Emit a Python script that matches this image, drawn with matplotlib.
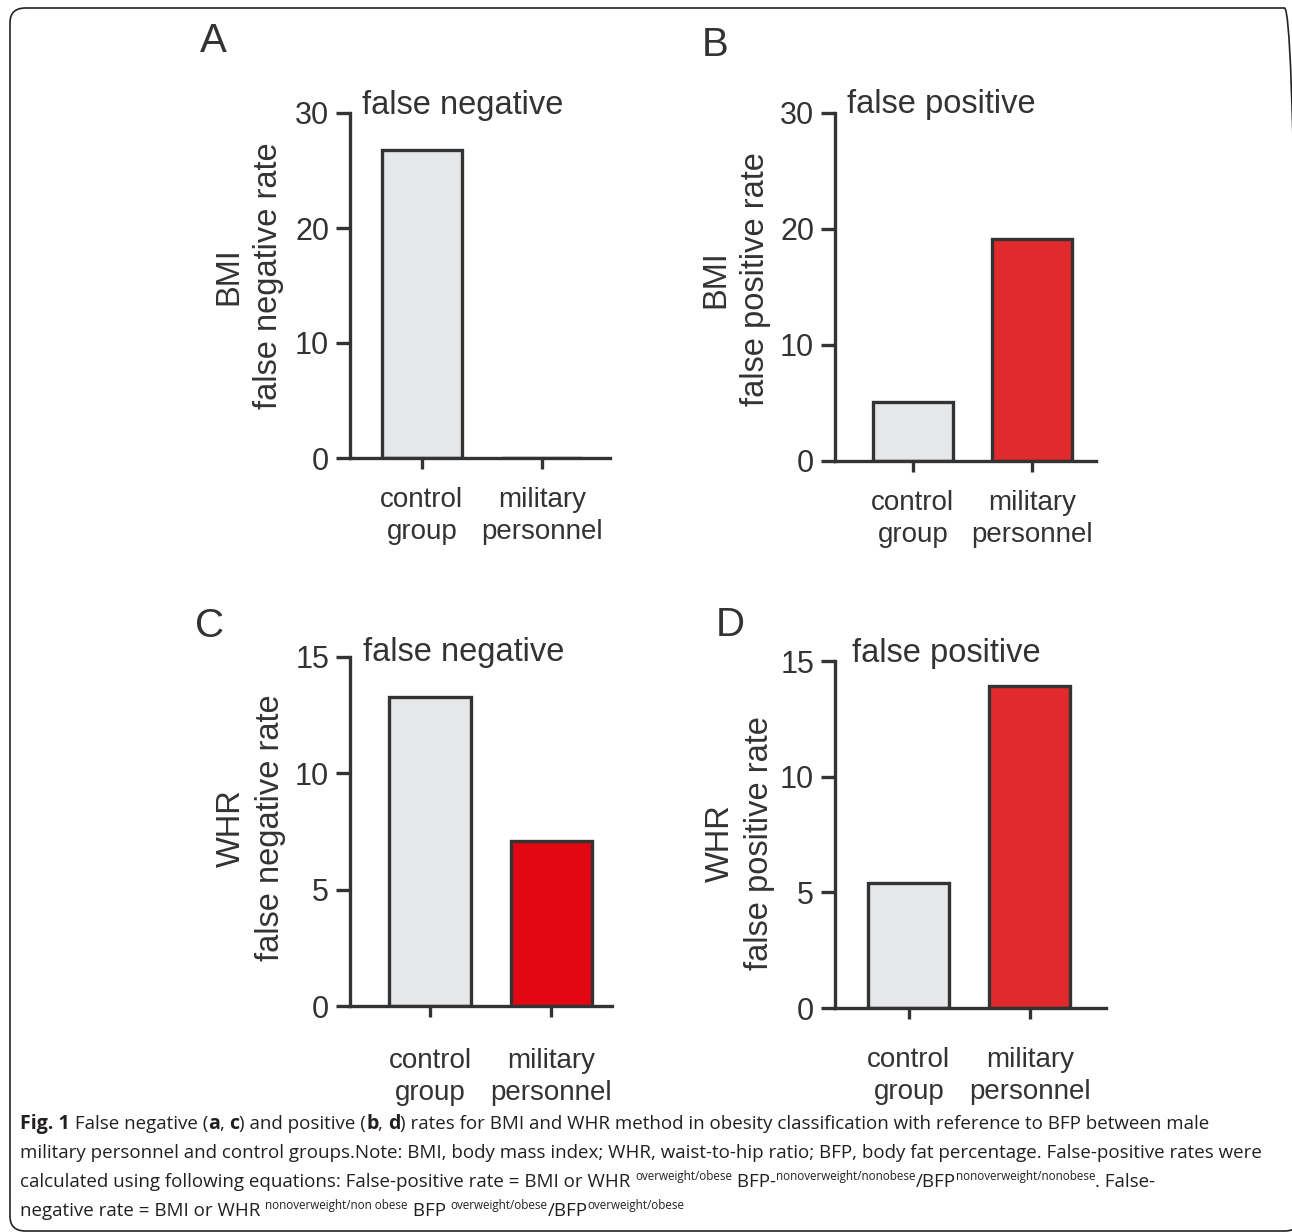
import matplotlib
matplotlib.use("Agg")
import matplotlib.pyplot as plt
from matplotlib.patches import FancyBboxPatch

W, H = 1292, 1232
DARK = "#333333"
GRAY = "#e6e7e9"

categories = ["control\ngroup", "military\npersonnel"]
bmi_false_negative = [26.8, 0.0]
bmi_false_positive = [5.1, 19.1]
whr_false_negative = [13.3, 7.1]
whr_false_positive = [5.4, 13.9]

panel_letters = ["A", "B", "C", "D"]
panel_titles = ["false negative", "false positive", "false negative", "false positive"]
panel_ylabels = ["BMI\nfalse negative rate", "BMI\nfalse positive rate",
                 "WHR\nfalse negative rate", "WHR\nfalse positive rate"]
panel_yticks = [[0, 10, 20, 30], [0, 10, 20, 30], [0, 5, 10, 15], [0, 5, 10, 15]]
panel_values = [bmi_false_negative, bmi_false_positive, whr_false_negative, whr_false_positive]
panel_red = ["#e02a2b", "#e02a2b", "#e20712", "#e02a2b"]

plt.rcParams["font.family"] = ["Liberation Sans", "DejaVu Sans"]


def fx(x):
    return x / W


def fy(y):
    return 1 - y / H


fig = plt.figure(figsize=(W / 100, H / 100), dpi=100)

# rounded frame around the whole figure
frame = FancyBboxPatch((fx(10), fy(1231)), fx(1300) - fx(10), fy(8) - fy(1231),
                       boxstyle="round,pad=0,rounding_size=0.012",
                       transform=fig.transFigure, fill=False, ec="#222222", lw=1.2)
fig.patches.append(frame)

# pixel layout: axes box, xlim, label positions
boxes = [(350, 610, 113, 458), (835, 1096, 113, 461), (350, 612, 657, 1006), (835, 1106, 661, 1008)]
xlims = [(-0.6, 1.57), (-0.655, 1.54), (-0.66, 1.5), (-0.61, 1.63)]
letter_pos = [(213, 41), (715, 45), (210, 626), (730, 625)]
title_pos = [(362, 114), (847, 113), (363, 661), (852, 662)]
ylabel_pos = [(249, 276), (736, 279), (251, 828), (740, 843)]
xpads = [13, 13, 22, 20]

for i in range(4):
    l, r, t, b = boxes[i]
    ax = fig.add_axes([fx(l), fy(b), (r - l) / W, (b - t) / H])
    vals = panel_values[i]
    ax.bar(range(len(categories)), vals, width=0.67,
           color=[GRAY, panel_red[i]], edgecolor=DARK, linewidth=2.4, zorder=3)
    ax.set_xlim(*xlims[i])
    yt = panel_yticks[i]
    ax.set_ylim(yt[0], yt[-1])
    ax.set_yticks(yt)
    ax.set_xticks(range(len(categories)))
    ax.set_xticklabels(categories, fontsize=20, linespacing=1.3, color=DARK)
    for s in ["top", "right"]:
        ax.spines[s].set_visible(False)
    for s in ["left", "bottom"]:
        ax.spines[s].set_linewidth(2.4)
        ax.spines[s].set_color(DARK)
        ax.spines[s].set_zorder(4)
    ax.tick_params(axis="y", direction="out", length=10, width=2.4, color=DARK,
                   labelsize=22, labelcolor=DARK, pad=5)
    ax.tick_params(axis="x", direction="out", length=8, width=2.4, color=DARK,
                   pad=xpads[i])
    ax.patch.set_alpha(0)

    fig.text(fx(letter_pos[i][0]), fy(letter_pos[i][1]), panel_letters[i],
             fontsize=29, color=DARK, ha="center", va="center")
    fig.text(fx(title_pos[i][0]), fy(title_pos[i][1]), panel_titles[i],
             fontsize=23.5, color=DARK, ha="left", va="baseline")
    fig.text(fx(ylabel_pos[i][0]), fy(ylabel_pos[i][1]), panel_ylabels[i],
             fontsize=23.5, color=DARK, ha="center", va="center", rotation=90,
             multialignment="center", linespacing=1.35)

# caption, drawn as runs so bold letters and superscripts sit inline
renderer = fig.canvas.get_renderer()
cap_font = ["Open Sans", "DejaVu Sans"]
cap_size = 13.5
cap_color = "#231f20"


def text_width(s, **kw):
    t = fig.text(0, 0, "x" + s + "x", family=cap_font, **kw)
    t0 = fig.text(0, 0, "xx", family=cap_font, **kw)
    w = t.get_window_extent(renderer).width - t0.get_window_extent(renderer).width
    t.remove()
    t0.remove()
    return w


def draw_runs(x_px, y_px, runs):
    for s, style in runs:
        kw = {"fontsize": cap_size, "color": cap_color}
        dy = 0
        if style == "b":
            kw["fontweight"] = "bold"
            kw["fontsize"] = cap_size * 1.05
        elif style == "sup":
            kw["fontsize"] = cap_size * 0.62
            dy = -cap_size * 0.55
        fig.text(fx(x_px), fy(y_px + dy), s, family=cap_font, va="baseline", ha="left", **kw)
        x_px += text_width(s, **kw)


caption_lines = [
    [("Fig. 1", "b"), (" False negative (", "n"), ("a", "b"), (", ", "n"), ("c", "b"),
     (") and positive (", "n"), ("b", "b"), (", ", "n"), ("d", "b"),
     (") rates for BMI and WHR method in obesity classification with reference to BFP between male", "n")],
    [("military personnel and control groups.Note: BMI, body mass index; WHR, waist-to-hip ratio; "
      "BFP, body fat percentage. False-positive rates were", "n")],
    [("calculated using following equations: False-positive rate = BMI or WHR ", "n"),
     ("overweight/obese", "sup"), (" BFP-", "n"), ("nonoverweight/nonobese", "sup"),
     ("/BFP", "n"), ("nonoverweight/nonobese", "sup"), (". False-", "n")],
    [("negative rate = BMI or WHR ", "n"), ("nonoverweight/non obese", "sup"), (" BFP ", "n"),
     ("overweight/obese", "sup"), ("/BFP", "n"), ("overweight/obese", "sup")],
]
caption_y = [1129, 1158, 1187, 1216]
for line, y in zip(caption_lines, caption_y):
    draw_runs(20, y, line)

fig.savefig("out.png", dpi=100)
